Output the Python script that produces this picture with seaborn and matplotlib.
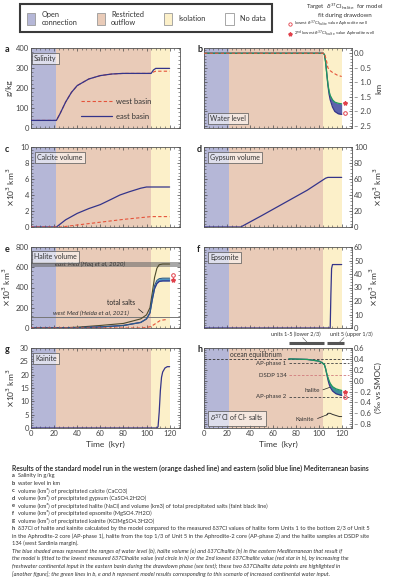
import matplotlib
matplotlib.use("Agg")
import matplotlib.pyplot as plt
import seaborn as sns
from matplotlib.patches import Patch
from matplotlib.lines import Line2D
from matplotlib.ticker import AutoMinorLocator, MultipleLocator, FuncFormatter, FixedLocator

# ---- data -----------------------------------------------------------------
phase_names = ["Open\nconnection", "Restricted\noutflow", "Isolation", "No data"]
phase_colors = ["#b5b7d7", "#e9cbb8", "#fcf0c9", "#ffffff"]
phase_edges = [0, 22, 104, 120]

# a  salinity (g/kg)
sal_t = [0, 22, 25, 30, 35, 40, 50, 60, 70, 80, 104, 106, 108, 120]
sal_east = [38, 38, 70, 130, 178, 212, 245, 262, 270, 273, 273, 290, 298, 298]
sal_west = [38, 38, 70, 130, 178, 212, 245, 262, 270, 273, 273, 280, 284, 284]

# b  water level (km)
wl_t = [0, 104, 105, 106, 107, 108, 109, 110, 112, 114, 117, 120]
wl_east = [0, 0, -0.05, -0.3, -0.7, -1.1, -1.4, -1.6, -1.85, -2.0, -2.08, -2.1]
wl_green = [0, 0, -0.05, -0.3, -0.7, -1.05, -1.3, -1.45, -1.6, -1.68, -1.72, -1.74]
wl_west_t = [0, 105, 107, 108, 110, 112, 116, 120]
wl_west = [0, 0, -0.3, -0.5, -0.6, -0.66, -0.75, -0.8]
wl_ticks = [0, -0.5, -1.0, -1.5, -2.0, -2.5]

# c  calcite volume (x10^3 km^3)
cal_t = [0, 22, 30, 40, 50, 60, 70, 77, 85, 95, 100, 120]
cal_east = [0, 0, 0.9, 1.7, 2.3, 2.8, 3.5, 4.0, 4.4, 4.85, 5.0, 5.0]
cal_west_t = [0, 26, 40, 60, 80, 104, 120]
cal_west = [0, 0, 0.25, 0.6, 0.95, 1.3, 1.3]

# d  gypsum volume
gyp_t = [0, 32, 50, 70, 90, 106, 108, 120]
gyp_east = [0, 0, 14, 30, 46, 61, 62, 62]
gyp_west_t = [0, 120]
gyp_west = [0, 0]

# e  halite volume
hal_t = [0, 22, 40, 60, 80, 95, 100, 103, 105, 107, 109, 111, 114, 120]
hal_total = [0, 0, 8, 25, 45, 90, 130, 200, 350, 500, 590, 625, 632, 632]
hal_east = [0, 0, 3, 10, 25, 55, 90, 150, 280, 390, 440, 460, 465, 465]
hal_green = [0, 0, 3, 10, 25, 55, 90, 150, 300, 420, 470, 487, 492, 492]
hal_west_t = [0, 95, 100, 104, 108, 112, 118]
hal_west = [0, 0, 5, 15, 45, 75, 85]
haq_band = (605, 648)
heida_level = 110

# f  epsomite volume
eps_t = [0, 110, 110.6, 111.2, 112, 120]
eps_east = [0, 0, 25, 44, 47, 47]
eps_west_t = [0, 120]
eps_west = [0, 0]

# g  kainite volume
kai_t = [0, 109, 110, 111, 112, 113, 114, 116, 118, 120]
kai_east = [0, 0, 0.5, 6, 14, 19, 21, 22.5, 23, 23]
kai_west_t = [0, 120]
kai_west = [0, 0]

# h  d37Cl of Cl-salts (permil vs SMOC)
cl_t = [74, 90, 100, 103, 105, 106, 107, 108, 109, 110, 112, 115, 118, 120]
cl_east = [0.4, 0.39, 0.36, 0.33, 0.29, 0.22, 0.12, 0.02, -0.06, -0.12, -0.19, -0.24, -0.26, -0.27]
cl_green = [0.4, 0.39, 0.36, 0.33, 0.29, 0.22, 0.13, 0.06, 0.0, -0.05, -0.11, -0.15, -0.17, -0.18]
kcl_t = [107, 108, 110, 112, 115, 118, 120]
kcl_v = [-0.63, -0.6, -0.6, -0.62, -0.64, -0.66, -0.66]
cl_ticks = [0.6, 0.4, 0.2, 0.0, -0.2, -0.4, -0.6, -0.8]
ref_names = ["AP-phase 1", "DSDP 134", "AP-phase 2"]
ref_levels = [0.32, 0.1, -0.3]
ref_colors = ["#444444", "#d07a7c", "#444444"]
ocean_eq = 0.4
unit_spans = [(74, 105), (107, 122)]
unit_labels = ["units 1-5 (lower 2/3)", "unit 5 (upper 1/3)"]

# target observations (red circle / star)
obs_t = 123
circle_b, star_b = -2.05, -1.7
circle_e, star_e = 520, 470
circle_h, star_h = -0.3, -0.2

EAST = "#34348a"; WEST = "#e5533a"; GREEN = "#1f9a5e"; TOT = "#4d4a2c"
RED = "#e0404a"; TXT = "#333333"

sns.set_theme(style="ticks")
plt.rcParams.update({
    "font.family": ["Lato", "DejaVu Sans"],
    "font.size": 5,
    "axes.linewidth": 0.6, "axes.edgecolor": "#555555",
    "axes.facecolor": "white",
    "xtick.direction": "in", "ytick.direction": "in",
    "xtick.major.size": 2.5, "ytick.major.size": 2.5,
    "xtick.minor.size": 1.3, "ytick.minor.size": 1.3,
    "xtick.major.width": 0.5, "ytick.major.width": 0.5,
    "xtick.minor.width": 0.4, "ytick.minor.width": 0.4,
    "xtick.labelsize": 5.5, "ytick.labelsize": 5.5,
    "xtick.color": "#444444", "ytick.color": "#444444",
    "xtick.major.pad": 1.5, "ytick.major.pad": 1.5,
    "mathtext.fontset": "dejavusans",
    "text.color": TXT, "axes.labelcolor": TXT,
})

W, H = 393, 585
fig = plt.figure(figsize=(W / 100, H / 100), dpi=100)


def px_axes(x0, y0, x1, y1):
    return fig.add_axes([x0 / W, 1 - y1 / H, (x1 - x0) / W, (y1 - y0) / H])


rows = [(48, 128), (147, 227), (247, 328), (348, 428)]
LEFT = (31, 180)
RIGHT = (204, 352)


def setup(ax, side, ylim, bottom_row=False):
    for i in range(3):
        ax.axvspan(phase_edges[i], phase_edges[i + 1], color=phase_colors[i], lw=0, zorder=0)
    ax.set_xlim(0, 129)
    ax.set_ylim(*ylim)
    ax.tick_params(which="both", top=True, bottom=True, left=True, right=True,
                   labelleft=(side == "left"), labelright=(side == "right"),
                   labelbottom=bottom_row)
    if side == "right":
        ax.yaxis.set_label_position("right")


def finish(ax, yticks, ylabel, bottom_row=False, signed=False):
    # applied after seaborn has drawn, so nothing resets the tick setup
    ax.set_xlim(0, 129)
    ax.xaxis.set_major_locator(MultipleLocator(20))
    ax.xaxis.set_minor_locator(MultipleLocator(4))
    ax.yaxis.set_major_locator(FixedLocator(yticks))
    ax.yaxis.set_minor_locator(AutoMinorLocator(5))
    if signed:
        ax.yaxis.set_major_formatter(FuncFormatter(
            lambda v, p: f"\u2013 {abs(v):.1f}" if v < -1e-9 else f"{abs(v):.1f}"))
    ax.set_xlabel("Time  (kyr)" if bottom_row else "", fontsize=6, labelpad=3)
    ax.set_ylabel(ylabel, fontsize=6, labelpad=3 if ax.yaxis.get_label_position() == "right" else 2)


def tag(ax, text, x, y, va="top"):
    ax.text(x, y, text, transform=ax.transAxes, fontsize=5, va=va, ha="left", color=TXT,
            bbox=dict(boxstyle="square,pad=0.3", fc=(1, 1, 1, 0.55), ec="#555555", lw=0.5),
            zorder=6)


def line(ax, x, y, color, ls="-", lw=0.9, z=3):
    sns.lineplot(x=x, y=y, ax=ax, color=color, linestyle=ls, lw=lw, zorder=z)


def targets(ax, circle_v, star_v):
    ax.plot([obs_t], [circle_v], marker="o", mfc="none", mec=RED, ms=2.6, mew=0.7,
            clip_on=False, zorder=7, lw=0)
    ax.plot([obs_t], [star_v], marker="*", color=RED, ms=3, clip_on=False, zorder=7, lw=0)


KM3 = r"$\times$10$^{3}$ km$^{3}$"
DASH = (0, (3, 2))

# ---- a salinity ----
ax = px_axes(LEFT[0], rows[0][0], LEFT[1], rows[0][1])
setup(ax, "left", (0, 400))
line(ax, sal_t, sal_west, WEST, ls=DASH, lw=0.8, z=2)
line(ax, sal_t, sal_east, EAST, z=3)
tag(ax, "Salinity", 0.02, 0.91)
ax.legend(handles=[Line2D([], [], color=WEST, ls=DASH, lw=0.8),
                   Line2D([], [], color=EAST, lw=0.9)],
          labels=["west basin", "east basin"], loc="lower left",
          bbox_to_anchor=(0.29, 0.02), frameon=False, fontsize=5.5,
          handlelength=4, labelspacing=1.0, handletextpad=0.6)
finish(ax, [0, 100, 200, 300, 400], "g/kg")

# ---- b water level ----
ax = px_axes(RIGHT[0], rows[0][0], RIGHT[1], rows[0][1])
setup(ax, "right", (-2.57, 0.18))
ax.fill_between(wl_t, wl_east, wl_green, color="#5c63ad", lw=0, zorder=2)
line(ax, wl_t, wl_east, EAST)
line(ax, wl_t, wl_green, GREEN)
line(ax, wl_west_t, wl_west, WEST, ls=DASH, lw=0.8, z=4)
targets(ax, circle_b, star_b)
tag(ax, "Water level", 0.04, 0.08, va="bottom")
finish(ax, wl_ticks, "km", signed=True)

# ---- c calcite ----
ax = px_axes(LEFT[0], rows[1][0], LEFT[1], rows[1][1])
setup(ax, "left", (0, 10))
line(ax, cal_t, cal_east, EAST)
line(ax, cal_west_t, cal_west, WEST, ls=DASH, lw=0.8, z=4)
tag(ax, "Calcite volume", 0.04, 0.91)
finish(ax, [0, 2, 4, 6, 8, 10], KM3)

# ---- d gypsum ----
ax = px_axes(RIGHT[0], rows[1][0], RIGHT[1], rows[1][1])
setup(ax, "right", (0, 100))
line(ax, gyp_t, gyp_east, EAST)
line(ax, gyp_west_t, gyp_west, WEST, ls=DASH, lw=0.8, z=4)
tag(ax, "Gypsum volume", 0.04, 0.91)
finish(ax, [0, 20, 40, 60, 80, 100], KM3)

# ---- e halite ----
ax = px_axes(LEFT[0], rows[2][0], LEFT[1], rows[2][1])
setup(ax, "left", (0, 800))
ax.axhspan(*haq_band, color="#6e6e6e", alpha=0.6, lw=0, zorder=1)
ax.axhline(heida_level, color="#777777", lw=0.7, zorder=1)
ax.text(51, sum(haq_band) / 2, "east Med (Haq et al, 2020)", fontsize=4.5, style="italic",
        ha="center", va="center", color="#333333", zorder=5)
ax.text(52, heida_level + 6, "west Med (Heida et al, 2021)", fontsize=4.5, style="italic",
        ha="center", va="bottom", color="#333333", zorder=5)
ax.fill_between(hal_t, hal_east, hal_green, color="#4a92c2", lw=0, zorder=2)
line(ax, hal_t, hal_total, TOT, lw=0.8)
line(ax, hal_t, hal_east, EAST)
line(ax, hal_t, hal_green, "#2a5d8a", lw=0.8)
line(ax, hal_west_t, hal_west, WEST, ls=DASH, lw=0.8, z=4)
targets(ax, circle_e, star_e)
ax.annotate("total salts", xy=(97, 150), xytext=(78, 250), fontsize=4.8, ha="center",
            va="center", color="#222222",
            arrowprops=dict(arrowstyle="-", lw=0.5, color="#222222",
                            shrinkA=0, shrinkB=0, relpos=(1, 0)))
tag(ax, "Halite volume", 0.02, 0.92)
finish(ax, [0, 200, 400, 600, 800], KM3)

# ---- f epsomite ----
ax = px_axes(RIGHT[0], rows[2][0], RIGHT[1], rows[2][1])
setup(ax, "right", (0, 60))
line(ax, eps_t, eps_east, EAST)
line(ax, eps_west_t, eps_west, WEST, ls=DASH, lw=0.8, z=4)
tag(ax, "Epsomite", 0.04, 0.91)
finish(ax, [0, 10, 20, 30, 40, 50, 60], KM3)

# ---- g kainite ----
ax = px_axes(LEFT[0], rows[3][0], LEFT[1], rows[3][1])
setup(ax, "left", (0, 30), bottom_row=True)
line(ax, kai_t, kai_east, EAST)
line(ax, kai_west_t, kai_west, WEST, ls=DASH, lw=0.8, z=4)
tag(ax, "Kainite", 0.03, 0.91)
finish(ax, [0, 5, 10, 15, 20, 25, 30], KM3, bottom_row=True)

# ---- h chlorine isotopes ----
ax = px_axes(RIGHT[0], rows[3][0], RIGHT[1], rows[3][1])
setup(ax, "right", (-0.87, 0.6), bottom_row=True)
ax.hlines(ocean_eq, 0, 126, color="#333333", lw=0.6, linestyles=DASH, zorder=2)
ax.text(45, ocean_eq + 0.02, "ocean equilibrium", fontsize=4.8, ha="center", va="bottom", zorder=5)
for name, lev, col in zip(ref_names, ref_levels, ref_colors):
    ax.hlines(lev, 74, 126, color=col, lw=0.6, linestyles=DASH, zorder=2)
    ax.text(72, lev, name, fontsize=4.3, ha="right", va="center", zorder=5)
ax.fill_between(cl_t, cl_east, cl_green, color="#3e8f9a", lw=0, zorder=3)
line(ax, cl_t, cl_east, EAST, z=4)
line(ax, cl_t, cl_green, GREEN, z=4)
line(ax, kcl_t, kcl_v, "#333333", lw=0.7)
targets(ax, circle_h, star_h)
ax.annotate("halite", xy=(110, -0.12), xytext=(94, -0.19), fontsize=4.6, ha="center", va="center",
            arrowprops=dict(arrowstyle="-", lw=0.5, color="#222222", shrinkA=0, shrinkB=0, relpos=(1, 0.5)))
ax.annotate("Kainite", xy=(108, -0.62), xytext=(88, -0.72), fontsize=4.3, ha="center", va="center",
            arrowprops=dict(arrowstyle="-", lw=0.5, color="#222222", shrinkA=0, shrinkB=0, relpos=(1, 0.5)))
trans = ax.get_xaxis_transform()
for (u0, u1) in unit_spans:
    ax.plot([u0, u1], [1.06, 1.06], transform=trans, color="#555555", lw=2.2,
            solid_capstyle="butt", clip_on=False)
ax.text(80, 1.17, unit_labels[0], transform=trans, fontsize=4.0, ha="center", va="center", clip_on=False)
ax.text(128, 1.17, unit_labels[1], transform=trans, fontsize=4.0, ha="center", va="center", clip_on=False)
ax.plot([86, 90], [1.13, 1.07], transform=trans, color="#555555", lw=0.4, clip_on=False)
ax.plot([122, 118], [1.13, 1.07], transform=trans, color="#555555", lw=0.4, clip_on=False)
tag(ax, r"$\delta^{37}$Cl of Cl- salts", 0.04, 0.05, va="bottom")
finish(ax, cl_ticks, "(‰ vs SMOC)", bottom_row=True, signed=True)

# ---- panel letters ----
for letter, (px, py) in zip("abcdefgh", [(5, 50), (197, 50), (5, 149), (197, 149),
                                          (5, 249), (197, 249), (5, 350), (197, 350)]):
    fig.text(px / W, 1 - py / H, letter, fontsize=6.5, weight="bold", va="center", color="#222222")

# ---- phase legend ----
handles = [Patch(facecolor=c, edgecolor="#999999", lw=0.6) for c in phase_colors]
leg = fig.legend(handles, phase_names, ncol=4, loc="upper left",
                 bbox_to_anchor=(20 / W, 1 - 4 / H, 252 / W, 0), mode="expand",
                 borderaxespad=0, fontsize=5.3, handlelength=1.2, handleheight=2.3,
                 handletextpad=0.8, borderpad=0.9, fancybox=False, edgecolor="#3a3a3a",
                 framealpha=1)
leg.get_frame().set_linewidth(1.5)

# ---- target legend (top right) ----
fig.text(345 / W, 1 - 7 / H, r"Target  $\delta^{37}$Cl$_{\rm halite}$  for model", fontsize=4.3,
         ha="center", va="center")
fig.text(345 / W, 1 - 15 / H, "fit during drawdown", fontsize=4.3, ha="center", va="center")
fig.add_artist(Line2D([290 / W], [1 - 24 / H], marker="o", mfc="none", mec=RED, ms=2.4, mew=0.6,
                      lw=0, transform=fig.transFigure))
fig.text(294 / W, 1 - 24 / H, r"lowest $\delta^{37}$Cl$_{\rm halite}$ value Aphrodite well",
         fontsize=3.1, va="center")
fig.add_artist(Line2D([290 / W], [1 - 34 / H], marker="*", color=RED, ms=2.8, lw=0,
                      transform=fig.transFigure))
fig.text(294 / W, 1 - 34 / H, r"2$^{\rm nd}$ lowest $\delta^{37}$Cl$_{\rm halite}$ value Aphrodite well",
         fontsize=3.1, va="center")

# ---- caption ----
cap_rows = [
    ("a", "Salinity in g/kg"),
    ("b", "water level in km"),
    ("c", "volume (km³) of precipitated calcite (CaCO3)"),
    ("d", "volume (km³) of precipitated gypsum (CaSO4.2H2O)"),
    ("e", "volume (km³) of precipitated halite (NaCl) and volume (km3) of total precipitated salts (faint black line)"),
    ("f", "volume (km³) of precipitated epsomite (MgSO4.7H2O)"),
    ("g", "volume (km³) of precipitated kainite (KClMgSO4.3H2O)"),
    ("h", "δ37Cl of halite and kainite calculated by the model compared to the measured δ37Cl values of halite form Units 1 to the bottom 2/3 of Unit 5"),
    ("", "in the Aphrodite-2 core (AP-phase 1), halite from the top 1/3 of Unit 5 in the Aphrodite-2 core (AP-phase 2) and the halite samples at DSDP site"),
    ("", "134 (west Sardinia margin)."),
]
cap_italic = [
    "The blue shaded areas represent the ranges of water level (b), halite volume (e) and δ37Clhalite (h) in the eastern Mediterranean that result if",
    "the model is fitted to the lowest measured δ37Clhalite value (red circle in h) or the 2nd lowest δ37Clhalite value (red star in h), by increasing the",
    "freshwater continental input in the eastern basin during the drawdown phase (see text); these two δ37Clhalite data points are highlighted in",
    "[another figure]; the green lines in b, e and h represent model results corresponding to this scenario of increased continental water input.",
]
CX = 12 / W
y = 468
fig.text(CX, 1 - y / H, "Results of the standard model run in the western (orange dashed line) and eastern "
         "(solid blue line) Mediterranean basins", fontsize=4.9, weight="bold", va="center")
step = 7.55
for letter, body in cap_rows:
    y += step
    if letter:
        fig.text(CX, 1 - y / H, letter, fontsize=4.1, weight="bold", va="center")
        fig.text(CX + 5.5 / W, 1 - y / H, body, fontsize=4.1, va="center")
    else:
        fig.text(CX, 1 - y / H, body, fontsize=4.1, va="center")
for body in cap_italic:
    y += step
    fig.text(CX, 1 - y / H, body, fontsize=4.1, style="italic", va="center")

fig.savefig("out.png", dpi=100)
